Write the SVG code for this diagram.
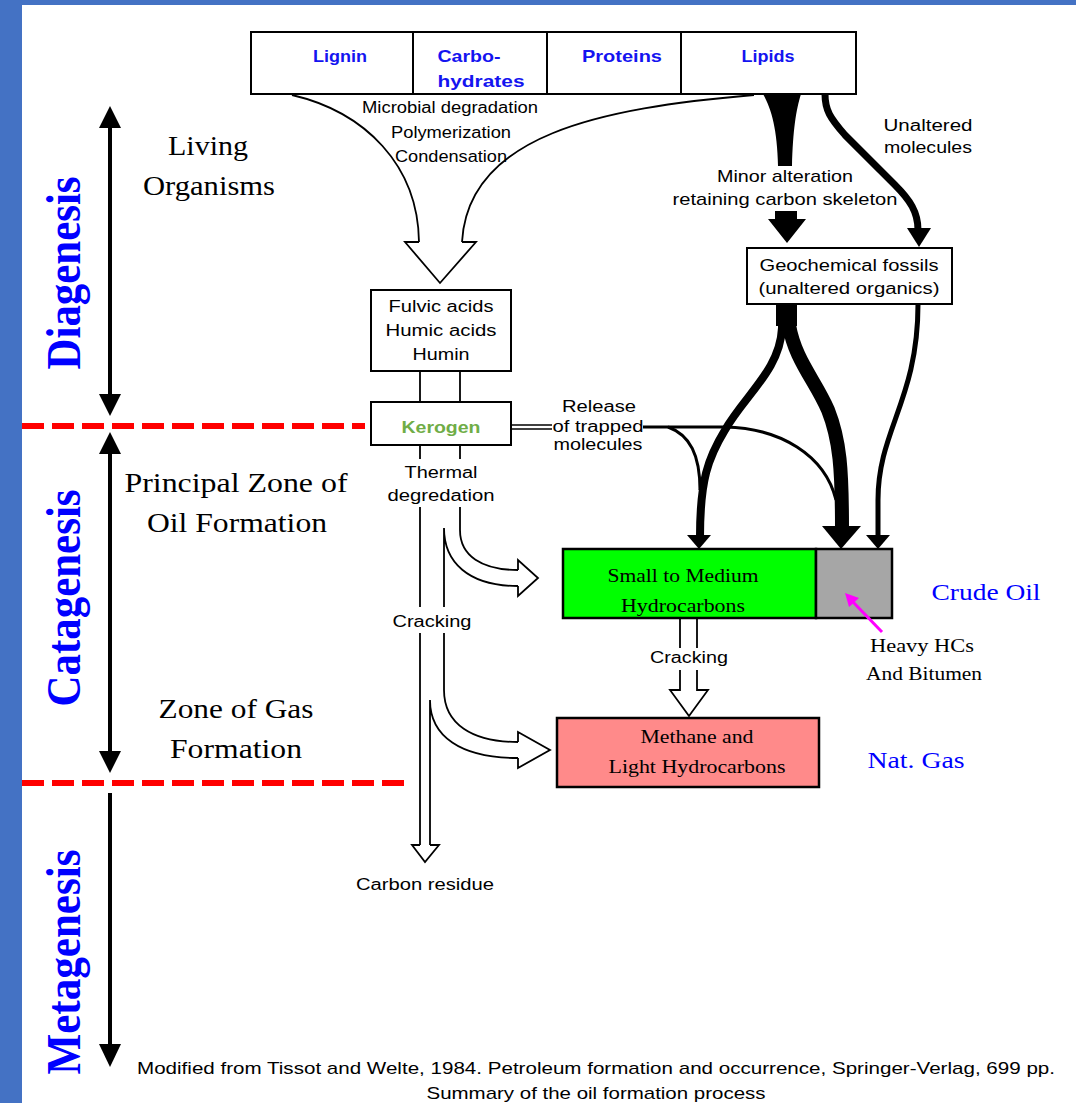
<svg xmlns="http://www.w3.org/2000/svg" width="1076" height="1103" viewBox="0 0 1076 1103">
<style>
.sans{font-family:"Liberation Sans",Arial,sans-serif;font-size:16px;fill:#000;text-anchor:middle}
.sm{font-family:"Liberation Sans",Arial,sans-serif;font-size:17px;fill:#000;text-anchor:middle}
.top{font-family:"Liberation Sans",Arial,sans-serif;font-size:17px;font-weight:bold;fill:#1414F0;text-anchor:middle}
.ser{font-family:"Liberation Serif","Times New Roman",serif;font-size:27px;fill:#000;text-anchor:middle}
.ser18{font-family:"Liberation Serif","Times New Roman",serif;font-size:18px;fill:#000;text-anchor:middle}
.blue{font-family:"Liberation Serif","Times New Roman",serif;font-size:24px;fill:#0000FF;text-anchor:middle}
.stage{font-family:"Liberation Serif","Times New Roman",serif;font-size:43px;font-weight:bold;fill:#0000FF;text-anchor:middle}
.foot{font-family:"Liberation Sans",Arial,sans-serif;font-size:17px;fill:#000;text-anchor:middle}
.box{fill:#fff;stroke:#000;stroke-width:2}
.thin{fill:none;stroke:#000;stroke-width:1.8}
.hollow{fill:#fff;stroke:#000;stroke-width:1.8;stroke-linejoin:miter}
.red{stroke:#FF0000;stroke-width:6;stroke-dasharray:22 8}
.dbl{stroke:#000;stroke-width:4;fill:none}
</style>
<rect x="0" y="0" width="1076" height="1103" fill="#fff"/>
<rect x="0" y="0" width="22" height="1103" fill="#4472C4"/>
<rect x="0" y="0" width="1076" height="5" fill="#4472C4"/>

<!-- Stage markers -->
<g id="stages">
  <line class="red" x1="22" y1="426" x2="365" y2="426"/>
  <line class="red" x1="22" y1="783" x2="405" y2="783"/>
  <line class="dbl" x1="110" y1="125" x2="110" y2="396"/>
  <polygon points="110,106 99,128 121,128"/>
  <polygon points="110,416 99,394 121,394"/>
  <line class="dbl" x1="110" y1="452" x2="110" y2="752"/>
  <polygon points="110,432 99,454 121,454"/>
  <polygon points="110,773 99,751 121,751"/>
  <line class="dbl" x1="110" y1="793" x2="110" y2="1046"/>
  <polygon points="110,1067 99,1044 121,1044"/>
  <text class="stage" transform="translate(80,273) scale(1.15,1) rotate(-90)" textLength="193" lengthAdjust="spacingAndGlyphs">Diagenesis</text>
  <text class="stage" transform="translate(80,598) scale(1.15,1) rotate(-90)" textLength="217" lengthAdjust="spacingAndGlyphs">Catagenesis</text>
  <text class="stage" transform="translate(80,962) scale(1.15,1) rotate(-90)" textLength="225" lengthAdjust="spacingAndGlyphs">Metagenesis</text>
  <text class="ser" x="208" y="155" textLength="80" lengthAdjust="spacingAndGlyphs">Living</text>
  <text class="ser" x="209" y="195" textLength="132" lengthAdjust="spacingAndGlyphs">Organisms</text>
  <text class="ser" x="236" y="492" textLength="223" lengthAdjust="spacingAndGlyphs">Principal Zone  of</text>
  <text class="ser" x="237" y="532" textLength="180" lengthAdjust="spacingAndGlyphs">Oil Formation</text>
  <text class="ser" x="236" y="718" textLength="155" lengthAdjust="spacingAndGlyphs">Zone of Gas</text>
  <text class="ser" x="236" y="758" textLength="132" lengthAdjust="spacingAndGlyphs">Formation</text>
</g>

<!-- Connectors -->
<g id="connectors">
  <path class="thin" d="M292,95 C365,112 418,165 419,242"/>
  <path class="thin" d="M754,95 C600,108 468,135 462,242"/>
  <path class="hollow" d="M419,242 L405,242 L440,283 L476,242 L462,242"/>
  <line class="thin" x1="420" y1="371" x2="420" y2="402"/>
  <line class="thin" x1="460" y1="371" x2="460" y2="402"/>
  <line class="thin" x1="420" y1="445" x2="420" y2="459"/>
  <line class="thin" x1="460" y1="445" x2="460" y2="459"/>
  <line class="thin" x1="420" y1="507" x2="420" y2="607"/>
  <line class="thin" x1="420" y1="633" x2="420" y2="845"/>
  <path class="thin" d="M460,507 L460,530 C460,556 482,570 518,570"/>
  <path class="hollow" d="M518,570 L518,560 L538,578 L518,596 L518,586"/>
  <path class="thin" d="M518,586 C468,586 444,562 444,528 L444,607"/>
  <path class="thin" d="M444,633 L444,690 C444,724 472,742 518,742"/>
  <path class="hollow" d="M518,742 L518,732 L550,750 L518,768 L518,758"/>
  <path class="thin" d="M518,758 C460,758 430,736 430,700 L430,845"/>
  <path class="hollow" d="M420,845 L412,845 L425,862 L439,845 L430,845"/>
  <line class="thin" x1="680" y1="619" x2="680" y2="648"/>
  <line class="thin" x1="697" y1="619" x2="697" y2="648"/>
  <path class="hollow" d="M680,670 L680,690 L670,690 L689,716 L708,690 L697,690 L697,670"/>
  <path d="M763,94 C772,110 777,130 778,166 L792,166 C793,130 796,110 801,94 Z"/>
  <polygon points="775,211 797,211 797,219 806,219 787,243 768,219 775,219"/>
  <path fill="none" stroke="#000" stroke-width="7" d="M825,94 C825,110 830,118 845,135 L895,185 C910,200 918,212 918,230"/>
  <polygon points="907,228 931,228 919,247"/>
  <rect x="776" y="304" width="21" height="22"/>
  <path fill="none" stroke="#000" stroke-width="8" d="M782,305 L782,328 C780,370 745,395 725,430 C708,458 700,480 700,537"/>
  <path fill="none" stroke="#000" stroke-width="14" d="M789,305 L789,325 C795,360 815,380 828,410 C840,440 842,470 842,528"/>
  <path fill="none" stroke="#000" stroke-width="5" d="M918,304 C918,400 878,430 878,500 L878,537"/>
  <polygon points="687,535 711,535 699,549"/>
  <polygon points="822,526 861,526 841,549"/>
  <polygon points="866,535 890,535 878,549"/>
  <line stroke="#000" stroke-width="1.6" x1="511" y1="425" x2="552" y2="425"/>
  <line stroke="#000" stroke-width="1.6" x1="511" y1="429" x2="552" y2="429"/>
  <path fill="none" stroke="#000" stroke-width="3" d="M643,427 L725,427 C780,428 825,455 836,500"/>
  <path fill="none" stroke="#000" stroke-width="3" d="M668,427 C690,435 700,455 700,490"/>
</g>

<!-- Nodes -->
<g id="biomass">
  <rect class="box" x="251" y="32" width="605" height="62"/>
  <line stroke="#000" stroke-width="2" x1="413" y1="32" x2="413" y2="94"/>
  <line stroke="#000" stroke-width="2" x1="547" y1="32" x2="547" y2="94"/>
  <line stroke="#000" stroke-width="2" x1="681" y1="32" x2="681" y2="94"/>
  <text class="top" x="340" y="62" textLength="54" lengthAdjust="spacingAndGlyphs">Lignin</text>
  <text class="top" x="469" y="62" textLength="63" lengthAdjust="spacingAndGlyphs">Carbo-</text>
  <text class="top" x="481" y="87" textLength="87" lengthAdjust="spacingAndGlyphs">hydrates</text>
  <text class="top" x="622" y="62" textLength="80" lengthAdjust="spacingAndGlyphs">Proteins</text>
  <text class="top" x="768" y="62" textLength="53" lengthAdjust="spacingAndGlyphs">Lipids</text>
</g>
<g id="labels-top">
  <text class="sans" x="450" y="113" textLength="176" lengthAdjust="spacingAndGlyphs">Microbial degradation</text>
  <text class="sans" x="451" y="138" textLength="120" lengthAdjust="spacingAndGlyphs">Polymerization</text>
  <text class="sans" x="451" y="162" textLength="112" lengthAdjust="spacingAndGlyphs">Condensation</text>
  <text class="sm" x="785" y="182" textLength="136" lengthAdjust="spacingAndGlyphs">Minor alteration</text>
  <text class="sm" x="785" y="205" textLength="225" lengthAdjust="spacingAndGlyphs">retaining carbon skeleton</text>
  <text class="sans" x="928" y="131" textLength="89" lengthAdjust="spacingAndGlyphs">Unaltered</text>
  <text class="sans" x="928" y="153" textLength="88" lengthAdjust="spacingAndGlyphs">molecules</text>
</g>
<g id="geochemical-fossils">
  <rect class="box" x="747" y="248" width="205" height="56"/>
  <text class="sans" x="849" y="271" textLength="179" lengthAdjust="spacingAndGlyphs">Geochemical fossils</text>
  <text class="sans" x="849" y="294" textLength="181" lengthAdjust="spacingAndGlyphs">(unaltered organics)</text>
</g>
<g id="humic">
  <rect class="box" x="371" y="290" width="140" height="81"/>
  <text class="sans" x="441" y="312" textLength="105" lengthAdjust="spacingAndGlyphs">Fulvic acids</text>
  <text class="sans" x="441" y="336" textLength="111" lengthAdjust="spacingAndGlyphs">Humic acids</text>
  <text class="sans" x="441" y="360" textLength="57" lengthAdjust="spacingAndGlyphs">Humin</text>
</g>
<g id="kerogen">
  <rect class="box" x="371" y="402" width="140" height="43"/>
  <text class="sans" x="441" y="433" font-weight="bold" style="fill:#70AD47" textLength="79" lengthAdjust="spacingAndGlyphs">Kerogen</text>
</g>
<g id="labels-mid">
  <text class="sans" x="599" y="412" textLength="74" lengthAdjust="spacingAndGlyphs">Release</text>
  <text class="sans" x="598" y="432" textLength="91" lengthAdjust="spacingAndGlyphs">of trapped</text>
  <text class="sans" x="598" y="450" textLength="89" lengthAdjust="spacingAndGlyphs">molecules</text>
  <text class="sans" x="441" y="478" textLength="73" lengthAdjust="spacingAndGlyphs">Thermal</text>
  <text class="sans" x="441" y="501" textLength="107" lengthAdjust="spacingAndGlyphs">degredation</text>
  <text class="sans" x="432" y="627" textLength="79" lengthAdjust="spacingAndGlyphs">Cracking</text>
  <text class="sans" x="689" y="663" textLength="78" lengthAdjust="spacingAndGlyphs">Cracking</text>
  <text class="sans" x="425" y="890" textLength="138" lengthAdjust="spacingAndGlyphs">Carbon residue</text>
</g>
<g id="oil">
  <rect x="563" y="549" width="253" height="69" fill="#00FF00" stroke="#000" stroke-width="2.5"/>
  <rect x="816" y="549" width="76" height="69" fill="#A6A6A6" stroke="#000" stroke-width="2.5"/>
  <text class="ser18" x="683" y="582" textLength="151" lengthAdjust="spacingAndGlyphs">Small to Medium</text>
  <text class="ser18" x="683" y="612" textLength="124" lengthAdjust="spacingAndGlyphs">Hydrocarbons</text>
  <text class="blue" x="986" y="600" textLength="109" lengthAdjust="spacingAndGlyphs">Crude Oil</text>
  <text class="ser18" x="922" y="652" textLength="104" lengthAdjust="spacingAndGlyphs">Heavy HCs</text>
  <text class="ser18" x="924" y="680" textLength="116" lengthAdjust="spacingAndGlyphs">And Bitumen</text>
</g>
<g id="pointer">
  <line stroke="#FF00FF" stroke-width="3" x1="882" y1="632" x2="853" y2="602"/>
  <polygon fill="#FF00FF" points="845,593 859,598 849,607"/>
</g>
<g id="gas">
  <rect x="557" y="718" width="262" height="69" fill="#FF8A8A" stroke="#000" stroke-width="2.5"/>
  <text class="ser18" x="697" y="743" textLength="113" lengthAdjust="spacingAndGlyphs">Methane and</text>
  <text class="ser18" x="697" y="773" textLength="177" lengthAdjust="spacingAndGlyphs">Light Hydrocarbons</text>
  <text class="blue" x="916" y="768" textLength="97" lengthAdjust="spacingAndGlyphs">Nat. Gas</text>
</g>
<g id="footer">
  <text class="foot" x="596" y="1074" textLength="918" lengthAdjust="spacingAndGlyphs">Modified  from Tissot and Welte, 1984.  Petroleum formation and occurrence, Springer-Verlag, 699 pp.</text>
  <text class="foot" x="596" y="1099" textLength="339" lengthAdjust="spacingAndGlyphs">Summary of the oil formation process</text>
</g>
</svg>
